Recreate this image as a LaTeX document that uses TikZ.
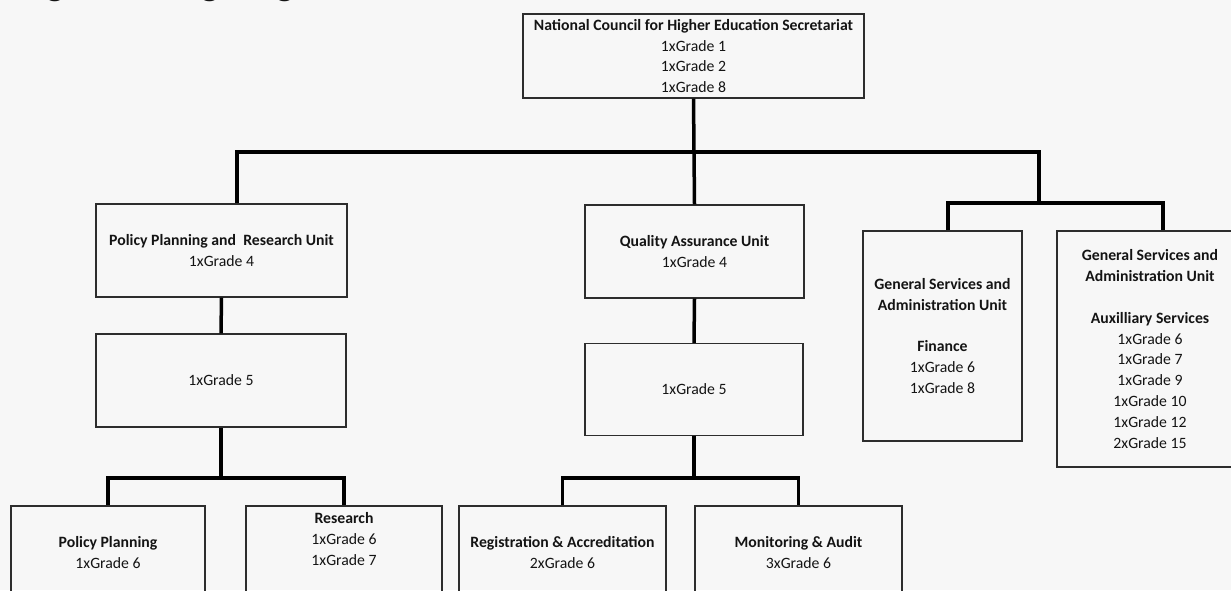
\documentclass[tikz,border=0pt]{standalone}
\usepackage{fontspec}
\setmainfont{Carlito}
\usetikzlibrary{positioning,calc}
\definecolor{pagebg}{RGB}{247,247,247}
\definecolor{edge}{RGB}{45,45,45}
\definecolor{ink}{RGB}{20,20,20}

\begin{document}
\begin{tikzpicture}[
  x=1pt,y=-1pt,
  every node/.style={font=\fontsize{15.75}{20.8}\selectfont,align=center,text=ink,inner sep=0pt},
  unit/.style={draw=edge,line width=1.3pt},
  link/.style={line width=3.5pt,black}
]
\fill[pagebg] (0,0) rectangle (1231,590);
\useasboundingbox (0,0) rectangle (1231,590);
\clip (0,0) rectangle (1231,590);

% title, cut off by the top edge
\node[font=\fontsize{37}{40}\selectfont\bfseries,anchor=base west] (title) at (20,-5) {Figure 1: Organogram};

% secretariat
\node[unit,minimum width=341pt,minimum height=84pt] (sec) at (693.5,56)
  {\textbf{National Council for Higher Education Secretariat}\\1xGrade 1\\1xGrade 2\\1xGrade 8};

% units
\node[unit,minimum width=251pt,minimum height=93pt] (ppr) at (221.5,250.5)
  {\textbf{Policy Planning and\ \ Research Unit}\\1xGrade 4};
\node[unit,minimum width=250pt,minimum height=93pt] (ppr5) at (221,380.5) {1xGrade 5};
\node[unit,minimum width=219pt,minimum height=93pt] (qa) at (694.5,251.5)
  {\textbf{Quality Assurance Unit}\\1xGrade 4};
\node[unit,minimum width=218pt,minimum height=92pt] (qa5) at (694,389.5) {1xGrade 5};
\node[unit,minimum width=159pt,minimum height=210pt] (fin) at (942.5,336)
  {\textbf{General Services and}\\\textbf{Administration Unit}\\[20.8pt]\textbf{Finance}\\1xGrade 6\\1xGrade 8};
\node[unit,minimum width=186pt,minimum height=236pt] (aux) at (1150,349)
  {\textbf{General Services and}\\\textbf{Administration Unit}\\[20.8pt]\textbf{Auxilliary Services}\\1xGrade 6\\1xGrade 7\\1xGrade 9\\1xGrade 10\\1xGrade 12\\2xGrade 15};

% sections
\node[unit,minimum width=194pt,minimum height=93pt] (pp) at (108,552.5)
  {\textbf{Policy Planning}\\1xGrade 6};
\node[unit,minimum width=196pt,minimum height=93pt] (res) at (344,552.5)
  {\textbf{Research}\\1xGrade 6\\1xGrade 7\\\strut};
\node[unit,minimum width=207pt,minimum height=93pt] (reg) at (562.5,552.5)
  {\textbf{Registration \& Accreditation}\\2xGrade 6};
\node[unit,minimum width=207pt,minimum height=93pt] (mon) at (798.5,552.5)
  {\textbf{Monitoring \& Audit}\\3xGrade 6};

% connectors
\coordinate (busL) at (237,152);
\coordinate (busR) at (1039,152);
\coordinate (gsL) at (948,203);
\coordinate (gsR) at (1163,203);
\coordinate (subbus) at (0,478);

\draw[link] (sec.south) -- (qa.north);
\draw[link] (busL |- ppr.north) -- (busL) -- (busR) -- (busR |- gsL);
\draw[link] (gsL |- fin.north) -- (gsL) -- (gsR) -- (gsR |- aux.north);
\draw[link] (ppr.south) -- (ppr5.north);
\draw[link] (qa.south) -- (qa5.north);
\draw[link] (ppr5.south) -- (ppr5.south |- subbus);
\draw[link] (pp.north) |- (subbus -| res.north) -- (res.north);
\draw[link] (qa5.south) -- (qa5.south |- subbus);
\draw[link] (reg.north) |- (subbus -| mon.north) -- (mon.north);
\end{tikzpicture}
\end{document}
